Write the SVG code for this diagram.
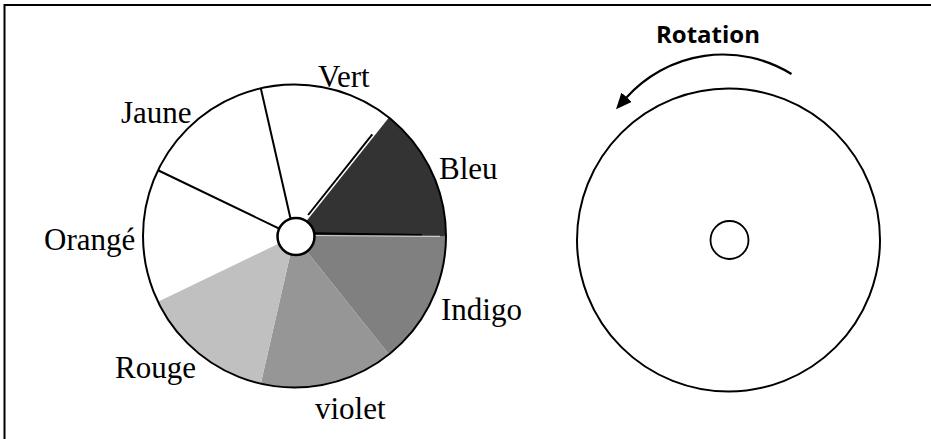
<svg xmlns="http://www.w3.org/2000/svg" width="931" height="439" viewBox="0 0 931 439">
<defs>
<style>
.lbl{font-family:"Liberation Serif","Times New Roman",serif;font-size:31px;fill:#000}
.rot{font-family:"Open Sans","Noto Sans","Liberation Sans",sans-serif;font-size:24px;font-weight:bold;fill:#000}
.ol{fill:none;stroke:#000;stroke-width:2}
.sp{stroke:#000;stroke-width:2;fill:none}
</style>
<marker id="ah" viewBox="0 0 16 14" refX="1" refY="7" markerWidth="16" markerHeight="14" orient="auto" markerUnits="userSpaceOnUse">
<path d="M0,0 L16,7 L0,14 Z" fill="#000"/>
</marker>
</defs>
<rect width="931" height="439" fill="#fff"/>
<path d="M4.5,439 V5 H931" fill="none" stroke="#000" stroke-width="2"/>

<g id="wheel-left">
<path d="M294.5,236 L446,236 A151.5,151.5 0 0 0 388.96,117.56 Z" fill="#333"/>
<path d="M294.5,236 L388.96,354.44 A151.5,151.5 0 0 0 446,236 Z" fill="#808080"/>
<path d="M294.5,236 L260.79,383.7 A151.5,151.5 0 0 0 388.96,354.44 Z" fill="#969696"/>
<path d="M294.5,236 L158,301.73 A151.5,151.5 0 0 0 260.79,383.7 Z" fill="#c0c0c0"/>
<line class="sp" x1="294.5" y1="236" x2="260.79" y2="88.3"/>
<line class="sp" x1="294.5" y1="236" x2="158" y2="170.27"/>
<line class="sp" x1="308.1" y1="215" x2="372.3" y2="134.3" stroke-width="1.5"/>
<line x1="314" y1="233.3" x2="422" y2="235" stroke="#000" stroke-width="2"/>
<line x1="314" y1="235.5" x2="440" y2="236.3" stroke="#fff" stroke-width="0.8"/>
<circle class="ol" cx="294.5" cy="236" r="151.5"/>
<circle cx="296" cy="236.5" r="18.5" fill="#fff" stroke="#000" stroke-width="2.5"/>
</g>

<g id="labels-left">
<text class="lbl" x="318" y="87">Vert</text>
<text class="lbl" x="121" y="123">Jaune</text>
<text class="lbl" x="439" y="179">Bleu</text>
<text class="lbl" x="44" y="250">Orangé</text>
<text class="lbl" x="441" y="320">Indigo</text>
<text class="lbl" x="115" y="378">Rouge</text>
<text class="lbl" x="315" y="419">violet</text>
</g>

<g id="wheel-right">
<circle class="ol" cx="728.5" cy="240" r="151.5"/>
<circle cx="729.5" cy="240" r="19" fill="none" stroke="#000" stroke-width="1.8"/>
</g>

<g id="rotation-label">
<text class="rot" x="656" y="42.5" textLength="104" lengthAdjust="spacingAndGlyphs">Rotation</text>
</g>

<g id="connectors">
<path d="M791.5,74 A130,130 0 0 0 626,98" fill="none" stroke="#000" stroke-width="2.2" marker-end="url(#ah)"/>
</g>
</svg>
